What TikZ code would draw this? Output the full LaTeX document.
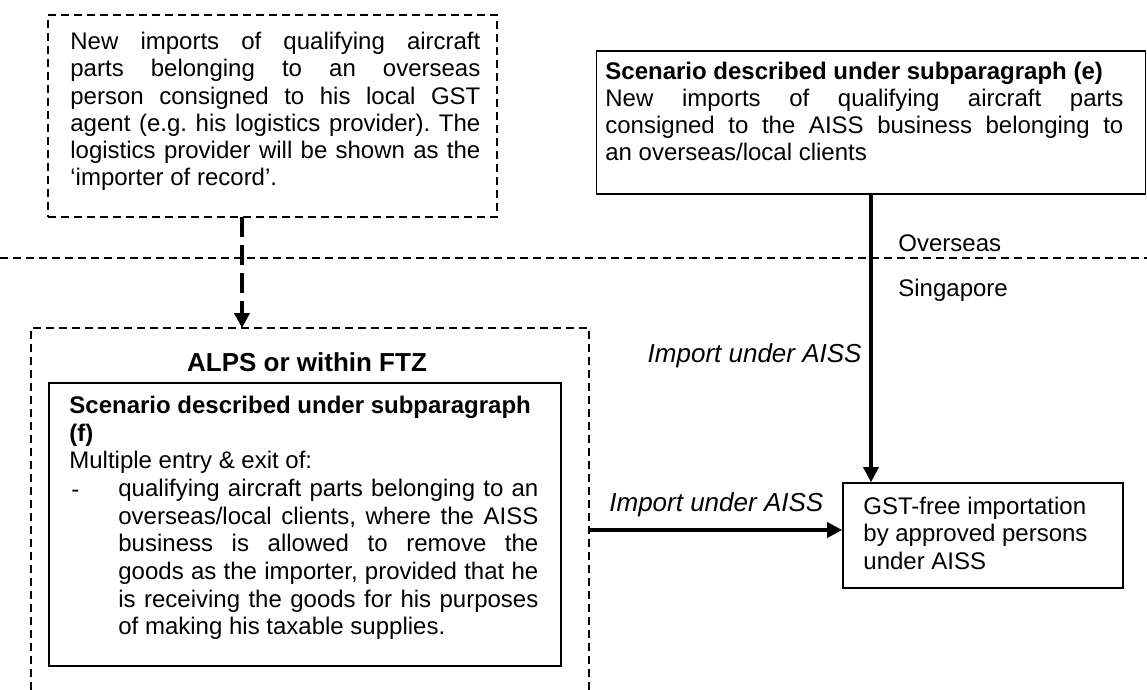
\documentclass[tikz,border=0pt]{standalone}
\usepackage{fontspec}
\setmainfont{Liberation Sans}
\usetikzlibrary{arrows.meta}
\hyphenpenalty=10000
\exhyphenpenalty=10000
\tolerance=10000
\hbadness=10000
\begin{document}
\begin{tikzpicture}[x=0.5pt,y=-0.5pt,
  thindash/.style={line width=0.8pt, dash pattern=on 4pt off 2.5pt},
  box/.style={draw, line width=0.8pt, inner sep=0pt},
  body/.style={inner sep=0pt, align=justify, font=\fontsize{12}{13.6}\selectfont\frenchspacing},
  lbl/.style={inner sep=0pt, font=\fontsize{12}{14}\selectfont},
  ilbl/.style={inner sep=0pt, font=\itshape\fontsize{13}{15}\selectfont},
  thickarrow/.style={line width=1.6pt, -{Triangle[length=7.5pt,width=7.5pt]}},
  dasharrow/.style={line width=1.8pt, dash pattern=on 10pt off 4pt, -{Triangle[length=7.5pt,width=7.5pt]}}
]
\useasboundingbox (0,0) rectangle (1147,690);

% Overseas / Singapore separator
\coordinate (sepL) at (0,258);
\coordinate (sepR) at (1147,258);
\draw[thindash] (sepL) -- (sepR);

% top-left dashed box
\node[box, thindash, minimum width=224.5pt, minimum height=101pt] (A) at (272.5,116) {};
\node[body, text width=205pt, anchor=north west] (Atext) at (70,32)
 {New imports of qualifying aircraft\linebreak
  parts belonging to an overseas\linebreak
  person consigned to his local GST\linebreak
  agent (e.g. his logistics provider). The\linebreak
  logistics provider will be shown as the\linebreak
  `importer of record'.};

% top-right box
\node[box, minimum width=274.5pt, minimum height=71.5pt] (B) at (871,122.5) {};
\node[body, text width=259pt, anchor=north west, font=\fontsize{12}{13.4}\selectfont] (Btext) at (605,62)
 {\textbf{Scenario described under subparagraph (e)}\\
  New imports of qualifying aircraft parts\linebreak
  consigned to the AISS business belonging to\linebreak
  an overseas/local clients};

\node[lbl, anchor=base west] (overseas) at (898,251) {Overseas};
\node[lbl, anchor=base west] (singapore) at (898,296) {Singapore};

% ALPS dashed region (open at the bottom)
\draw[thindash] (31,690) -- (31,328) -- (589,328) -- (589,690);
\coordinate (Ctop) at (242,328);
\coordinate (Cright) at (589,530);
\node[inner sep=0pt, font=\bfseries\fontsize{13}{15}\selectfont] (alps) at (307,362) {ALPS or within FTZ};

% inner box
\node[box, minimum width=256pt, minimum height=141.5pt] (D) at (305,524.5) {};
\node[inner sep=0pt, align=left, anchor=north west, font=\fontsize{12}{13.8}\selectfont] (Dtext) at (69,396)
 {\textbf{Scenario described under subparagraph}\\
  \textbf{(f)}\\
  Multiple entry \& exit of:};
\node[body, text width=210pt, anchor=north west, font=\fontsize{12}{13.8}\selectfont\frenchspacing] (Dlist) at (118,479)
 {qualifying aircraft parts belonging to an\linebreak
  overseas/local clients, where the AISS\linebreak
  business is allowed to remove the\linebreak
  goods as the importer, provided that he\linebreak
  is receiving the goods for his purposes\linebreak
  of making his taxable supplies.};
\node[inner sep=0pt, anchor=base west, font=\fontsize{12}{13.8}\selectfont] (Ddash) at (71,497) {-};

% GST box
\node[box, minimum width=140pt, minimum height=52.5pt] (E) at (983,535.5) {};
\node[inner sep=0pt, align=left, anchor=north west, font=\fontsize{12}{13.6}\selectfont] (Etext) at (863,497)
 {GST-free importation\\by approved persons\\under AISS};

% labels
\node[ilbl, anchor=base east] (imp1) at (862,362) {Import under AISS};
\node[ilbl, anchor=base west] (imp2) at (609,511) {Import under AISS};

% connectors
\coordinate (Abot) at (242,217);
\draw[dasharrow] (Abot) -- (Ctop);
\draw[thickarrow] (B.south) -- (B.south |- E.north);
\draw[thickarrow] (Cright) -- (Cright -| E.west);
\end{tikzpicture}
\end{document}
